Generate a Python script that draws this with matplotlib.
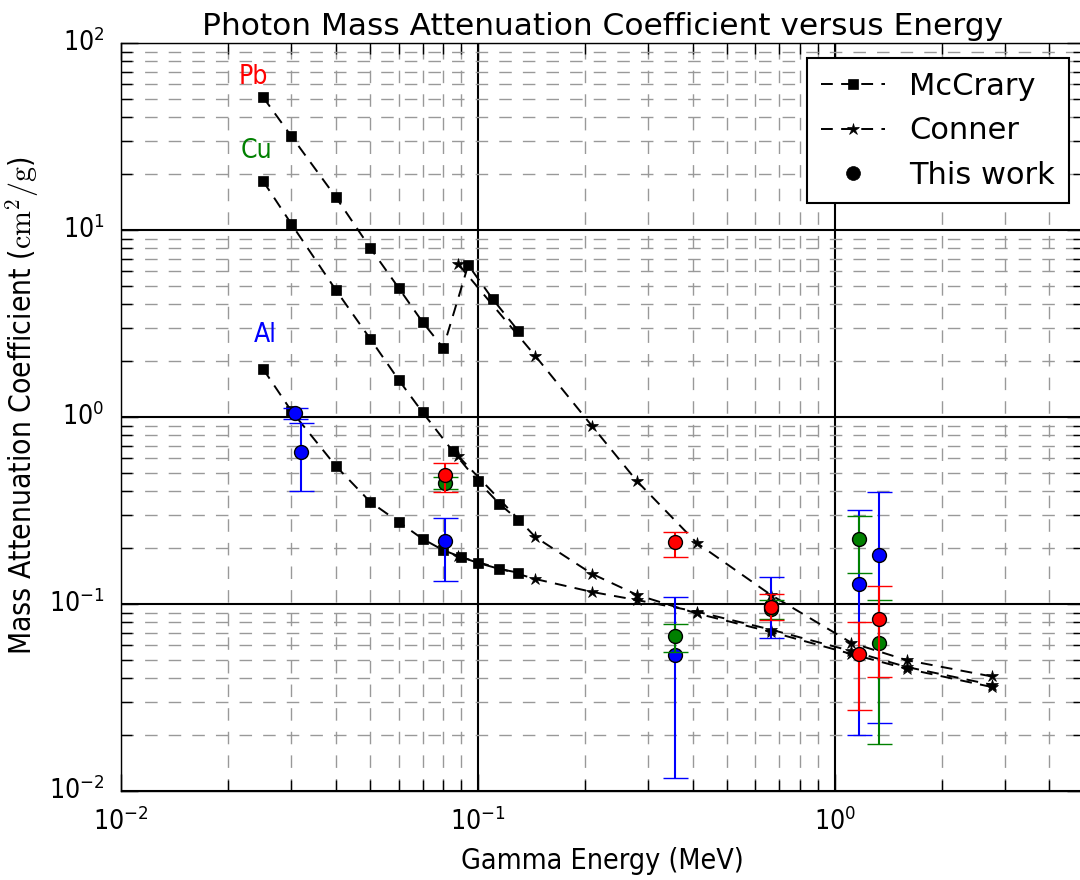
import matplotlib

matplotlib.use("Agg")
import matplotlib.pyplot as plt
from matplotlib import font_manager as fm
from matplotlib.font_manager import FontProperties


# McCrary (squares)
pb_mc_e = [0.025, 0.03, 0.04, 0.05, 0.06, 0.07, 0.08, 0.094, 0.11, 0.13]
pb_mc_mu = [51.4, 31.8, 15.0, 8.0, 4.9, 3.22, 2.34, 6.5, 4.28, 2.88]
cu_mc_e = [0.025, 0.03, 0.04, 0.05, 0.06, 0.07, 0.085, 0.1, 0.115, 0.13]
cu_mc_mu = [18.3, 10.8, 4.78, 2.61, 1.58, 1.06, 0.658, 0.454, 0.343, 0.281]
al_mc_e = [0.025, 0.03, 0.04, 0.05, 0.06, 0.07, 0.08, 0.09, 0.1, 0.115, 0.13]
al_mc_mu = [1.81, 1.08, 0.547, 0.351, 0.275, 0.223, 0.194, 0.178, 0.166, 0.154, 0.147]

# Conner (stars)
conner_e = [0.088, 0.145, 0.209, 0.279, 0.411, 0.662, 1.115, 1.596, 2.754]
pb_cn_mu = [6.6, 2.12, 0.895, 0.455, 0.212, 0.112, 0.062, 0.050, 0.041]
cu_cn_mu = [0.62, 0.228, 0.145, 0.112, 0.089, 0.071, 0.054, 0.045, 0.036]
al_cn_mu = [0.18, 0.136, 0.116, 0.105, 0.091, 0.073, 0.056, 0.046, 0.037]

# This work (circles with error bars)
al_tw_e = [0.0308, 0.032, 0.081, 0.356, 0.662, 1.173, 1.332]
al_tw_mu = [1.05, 0.65, 0.216, 0.0534, 0.098, 0.128, 0.183]
al_tw_lo = [0.07, 0.25, 0.083, 0.0417, 0.032, 0.108, 0.160]
al_tw_hi = [0.07, 0.28, 0.073, 0.0556, 0.041, 0.190, 0.214]

cu_tw_e = [0.081, 0.356, 0.662, 1.173, 1.332]
cu_tw_mu = [0.442, 0.0675, 0.094, 0.222, 0.0618]
cu_tw_lo = [0.030, 0.012, 0.011, 0.076, 0.044]
cu_tw_hi = [0.037, 0.011, 0.011, 0.074, 0.043]

pb_tw_e = [0.081, 0.356, 0.662, 1.173, 1.332]
pb_tw_mu = [0.49, 0.215, 0.0963, 0.054, 0.0832]
pb_tw_lo = [0.095, 0.037, 0.014, 0.027, 0.0425]
pb_tw_hi = [0.079, 0.027, 0.017, 0.026, 0.042]


def condensed_font():
    for f in fm.fontManager.ttflist:
        if f.name == "DejaVu Sans" and f.stretch == "condensed" and f.style == "normal" and f.weight in (400, "normal"):
            return FontProperties(fname=f.fname)
    names = {f.name for f in fm.fontManager.ttflist}
    if "Liberation Sans Narrow" in names:
        return FontProperties(family="Liberation Sans Narrow")
    return FontProperties(family="DejaVu Sans")


plt.style.use("classic")
plt.rcParams["lines.scale_dashes"] = False
narrow = condensed_font()

fig = plt.figure(figsize=(10.8, 8.8), dpi=100)
ax = fig.add_axes([121 / 1080, 89 / 880, 963 / 1080, 748 / 880])
ax.set_xscale("log")
ax.set_yscale("log")

dash = (0, (8.5, 6))
ms_kw = dict(color="k", linestyle=dash, linewidth=1.4, zorder=2)
ax.plot(pb_mc_e, pb_mc_mu, marker="s", markersize=7, label="McCrary", **ms_kw)
ax.plot(cu_mc_e, cu_mc_mu, marker="s", markersize=7, **ms_kw)
ax.plot(al_mc_e, al_mc_mu, marker="s", markersize=7, **ms_kw)
ax.plot(conner_e, pb_cn_mu, marker="*", markersize=9, label="Conner", **ms_kw)
ax.plot(conner_e, cu_cn_mu, marker="*", markersize=9, **ms_kw)
ax.plot(conner_e, al_cn_mu, marker="*", markersize=9, **ms_kw)

eb_kw = dict(fmt="o", markersize=10, markeredgecolor="k", markeredgewidth=1,
             elinewidth=1.5, capsize=9, capthick=1.5)
ax.errorbar(al_tw_e, al_tw_mu, yerr=[al_tw_lo, al_tw_hi], color="b", zorder=3, **eb_kw)
ax.errorbar(cu_tw_e, cu_tw_mu, yerr=[cu_tw_lo, cu_tw_hi], color="g", zorder=4, **eb_kw)
ax.errorbar(pb_tw_e, pb_tw_mu, yerr=[pb_tw_lo, pb_tw_hi], color="r", zorder=5, **eb_kw)
ax.plot([], [], "o", color="k", markersize=10, label="This work")

ax.set_xlim(0.01, 5)
ax.set_ylim(0.01, 100)

ax.grid(which="major", color="k", linestyle="-", linewidth=1.5, zorder=0)
ax.grid(which="minor", color="0.6", linestyle=(0, (9, 8)), linewidth=1, zorder=0)
ax.set_axisbelow(True)
ax.tick_params(which="both", direction="in", top=True, right=True)
ax.tick_params(which="major", length=12, width=1, pad=12)
ax.tick_params(which="minor", length=8, width=1)
for lab in ax.get_xticklabels() + ax.get_yticklabels():
    lab.set_fontproperties(narrow)
    lab.set_fontsize(19)

ax.text(0.0213, 60.4, "Pb", color="r", fontproperties=narrow, fontsize=19)
ax.text(0.0217, 24.3, "Cu", color="g", fontproperties=narrow, fontsize=19)
ax.text(0.0236, 2.52, "Al", color="b", fontproperties=narrow, fontsize=19)

ax.set_title("Photon Mass Attenuation Coefficient versus Energy", fontsize=22.5,
             family="DejaVu Sans", pad=6)
ax.set_xlabel("Gamma Energy (MeV)", fontproperties=narrow, fontsize=20.5)
ax.set_ylabel(r"Mass Attenuation Coefficient ($\mathrm{cm^2/g}$)", fontproperties=narrow,
              fontsize=21.5)
ax.xaxis.set_label_coords(0.5, -0.075)
ax.yaxis.set_label_coords(-0.083, 0.515)

leg = ax.legend(loc="upper right", numpoints=1, fontsize=22, handlelength=2.1,
                handletextpad=0.8, labelspacing=0.5, borderpad=0.45, fancybox=False)
leg.get_frame().set_edgecolor("k")
leg.get_frame().set_linewidth(1.5)

fig.savefig("out.png", dpi=100)
